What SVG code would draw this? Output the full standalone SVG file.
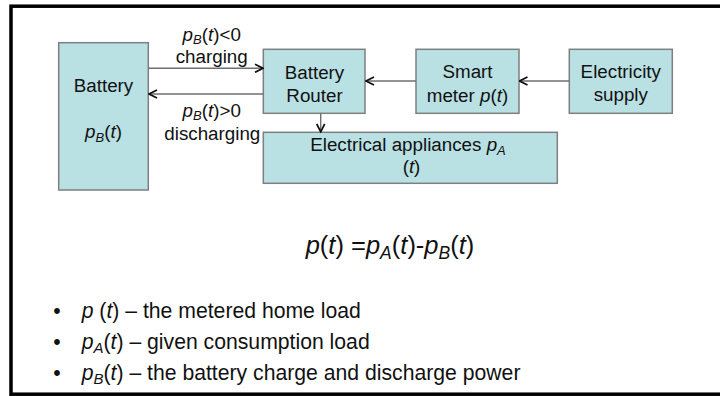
<svg xmlns="http://www.w3.org/2000/svg" width="720" height="396" viewBox="0 0 720 396">
<defs>
<style>
.box{fill:#b9e0e3;stroke:#7f7f7f;stroke-width:1.5}
.t{font-family:"Liberation Sans",Arial,sans-serif;font-size:18.8px;fill:#111;text-anchor:middle}
.b{font-family:"Liberation Sans",Arial,sans-serif;font-size:21.2px;fill:#111}
.eq{font-family:"Liberation Sans",Arial,sans-serif;font-size:25.5px;fill:#111;text-anchor:middle}
.i{font-style:italic}
.conn line{stroke:#6f6f6f;stroke-width:1.4;marker-end:url(#ah)}
</style>
<marker id="ah" viewBox="0 0 10 10" refX="9" refY="5" markerWidth="10" markerHeight="10" markerUnits="userSpaceOnUse" orient="auto">
<path d="M1,1 L9,5 L1,9" fill="none" stroke="#111" stroke-width="1.8"/>
</marker>
</defs>
<rect width="720" height="396" fill="#fff"/>
<rect x="11" y="6.2" width="720" height="388" fill="none" stroke="#000" stroke-width="3.5"/>

<g id="battery">
<rect class="box" x="58.7" y="42.7" width="89.6" height="147.3"/>
<text class="t" x="103.5" y="91.7">Battery</text>
<text class="t" x="103.5" y="138.3"><tspan class="i">p</tspan><tspan class="i" font-size="13" dy="4">B</tspan><tspan dy="-4">(</tspan><tspan class="i">t</tspan>)</text>
</g>

<g id="router">
<rect class="box" x="263.3" y="49.3" width="101.7" height="64"/>
<text class="t" x="314.5" y="79.3">Battery</text>
<text class="t" x="314.5" y="101.7">Router</text>
</g>

<g id="smart-meter">
<rect class="box" x="416" y="49.3" width="103" height="64"/>
<text class="t" x="467.5" y="78.3">Smart</text>
<text class="t" x="467.5" y="101.7">meter <tspan class="i">p</tspan>(<tspan class="i">t</tspan>)</text>
</g>

<g id="electricity-supply">
<rect class="box" x="569.3" y="49.3" width="103" height="64"/>
<text class="t" x="620.8" y="78.3">Electricity</text>
<text class="t" x="620.8" y="100.7">supply</text>
</g>

<g id="appliances">
<rect class="box" x="263.3" y="132.3" width="294" height="51"/>
<text class="t" x="408" y="150.5">Electrical appliances <tspan class="i">p</tspan><tspan class="i" font-size="13" dy="4">A</tspan></text>
<text class="t" x="411.5" y="172.7">(<tspan class="i">t</tspan>)</text>
</g>

<g id="connectors" class="conn">
<line x1="148.3" y1="68.3" x2="263" y2="68.3"/>
<line x1="263.3" y1="94" x2="149" y2="94"/>
<line x1="416" y1="81" x2="366" y2="81"/>
<line x1="569.3" y1="81" x2="519.5" y2="81"/>
<line x1="320.7" y1="113.3" x2="320.7" y2="131.8"/>
</g>

<g id="labels">
<text class="t" x="211.7" y="40.5"><tspan class="i">p</tspan><tspan class="i" font-size="13" dy="3">B</tspan><tspan dy="-3">(</tspan><tspan class="i">t</tspan>)&lt;0</text>
<text class="t" x="211.7" y="63.3">charging</text>
<text class="t" x="211.7" y="117.2"><tspan class="i">p</tspan><tspan class="i" font-size="13" dy="3">B</tspan><tspan dy="-3">(</tspan><tspan class="i">t</tspan>)&gt;0</text>
<text class="t" x="212.3" y="140">discharging</text>
</g>

<g id="equation">
<text class="eq" x="390" y="254"><tspan class="i">p</tspan>(<tspan class="i">t</tspan>) =<tspan class="i">p</tspan><tspan class="i" font-size="17.5" dy="5">A</tspan><tspan dy="-5">(</tspan><tspan class="i">t</tspan>)-<tspan class="i">p</tspan><tspan class="i" font-size="17.5" dy="5">B</tspan><tspan dy="-5">(</tspan><tspan class="i">t</tspan>)</text>
</g>

<g id="bullets">
<text class="b" x="57" y="318" text-anchor="middle">•</text>
<text class="b" x="81.7" y="318"><tspan class="i">p</tspan> (<tspan class="i">t</tspan>) – the metered home load</text>
<text class="b" x="57" y="349" text-anchor="middle">•</text>
<text class="b" x="81.7" y="349"><tspan class="i">p</tspan><tspan class="i" font-size="15" dy="4">A</tspan><tspan dy="-4">(</tspan><tspan class="i">t</tspan>) – given consumption load</text>
<text class="b" x="57" y="380" text-anchor="middle">•</text>
<text class="b" x="81.7" y="380"><tspan class="i">p</tspan><tspan class="i" font-size="15" dy="4">B</tspan><tspan dy="-4">(</tspan><tspan class="i">t</tspan>) – the battery charge and discharge power</text>
</g>
</svg>
